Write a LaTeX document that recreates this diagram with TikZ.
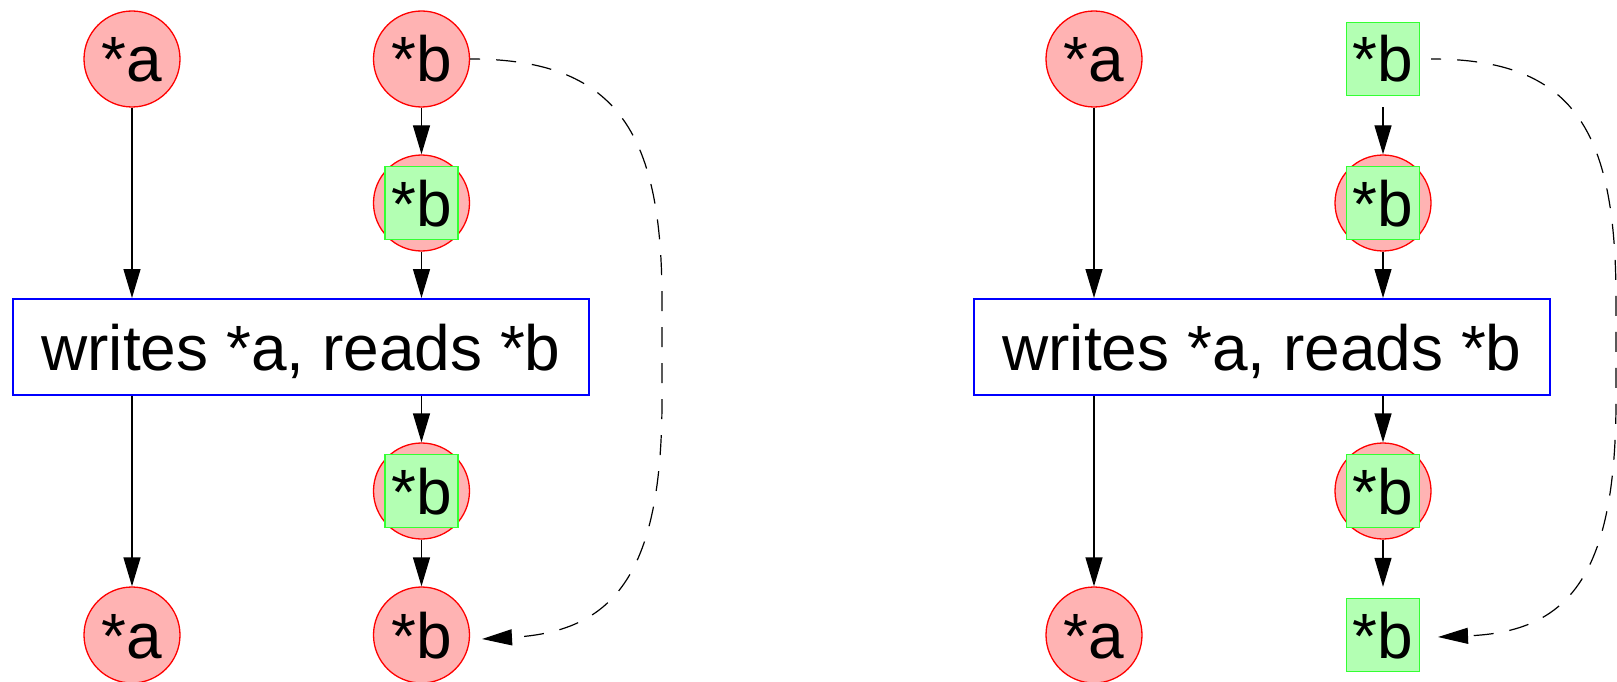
\documentclass[tikz,border=0pt]{standalone}
\usepackage{fontspec}
\setmainfont{Liberation Sans}
\usetikzlibrary{arrows.meta}
\definecolor{pinkfill}{RGB}{255,179,179}
\definecolor{greenfill}{RGB}{179,255,179}
\definecolor{greenline}{RGB}{51,255,51}
\begin{document}
\begin{tikzpicture}[x=1pt,y=-1pt,
  every node/.style={font=\fontsize{64}{77}\selectfont, inner sep=0pt,
    text height=46pt, text depth=0pt},
  memnode/.style={circle, draw=red, fill=pinkfill, line width=1.3pt, minimum size=96pt},
  ghost/.style={circle, minimum size=96pt},
  regsq/.style={rectangle, draw=greenline, fill=greenfill, line width=1.5pt, minimum size=72.6pt},
  opbox/.style={rectangle, draw=blue, line width=2pt, minimum width=576pt, minimum height=96pt},
  flow/.style={line width=1.3pt, -{Triangle[length=29pt,width=17pt]}},
  alias/.style={line width=1.2pt, dash pattern=on 20pt off 16pt, dash phase=10pt,
    -{Triangle[length=30pt,width=16pt]}}]
\useasboundingbox (0,0) rectangle (1617,682);

% ---------- left graph: *b stays in memory ----------
\node[memnode] (La1) at (132,59) {*a};
\node[memnode] (Lb1) at (421.5,59) {*b};
\node[memnode] (Lb2) at (421.5,203) {};
\node[regsq]   (Lb2s) at (421.5,203) {*b};
\node[opbox]   (Lop) at (301,347) {writes *a, reads *b};
\node[memnode] (Lb4) at (421.5,491) {};
\node[regsq]   (Lb4s) at (421.5,491) {*b};
\node[memnode] (La5) at (132,635) {*a};
\node[memnode] (Lb5) at (421.5,635) {*b};

\draw[flow] (La1) -- (La1 |- Lop.north);
\draw[flow] (La1 |- Lop.south) -- (La5);
\draw[flow] (Lb1) -- (Lb2);
\draw[flow] (Lb2) -- (Lb2 |- Lop.north);
\draw[flow] (Lb2 |- Lop.south) -- (Lb4);
\draw[flow] (Lb4) -- (Lb5);

\coordinate (Lv1) at (662,300);
\coordinate (Lv2) at (662,400);
\coordinate (Lend) at (482,639);
\draw[alias] (Lb1.east) .. controls (615,59) and (662,130) .. (Lv1) -- (Lv2)
  .. controls (662,580) and (610,632) .. (Lend);

% ---------- right graph: *b kept in a register ----------
\node[memnode] (Ra1) at (1094,59) {*a};
\node[ghost]   (Rb1) at (1383,59) {};
\node[regsq]   (Rb1s) at (1383,59) {*b};
\node[memnode] (Rb2) at (1383,203) {};
\node[regsq]   (Rb2s) at (1383,203) {*b};
\node[opbox]   (Rop) at (1262,347) {writes *a, reads *b};
\node[memnode] (Rb4) at (1383,491) {};
\node[regsq]   (Rb4s) at (1383,491) {*b};
\node[memnode] (Ra5) at (1094,635) {*a};
\node[ghost]   (Rb5) at (1383,635) {};
\node[regsq]   (Rb5s) at (1383,635) {*b};

\draw[flow] (Ra1) -- (Ra1 |- Rop.north);
\draw[flow] (Ra1 |- Rop.south) -- (Ra5);
\draw[flow] (Rb1) -- (Rb2);
\draw[flow] (Rb2) -- (Rb2 |- Rop.north);
\draw[flow] (Rb2 |- Rop.south) -- (Rb4);
\draw[flow] (Rb4) -- (Rb5);

\coordinate (Rv1) at (1616,300);
\coordinate (Rv2) at (1616,400);
\coordinate (Rend) at (1438,637);
\draw[alias] (Rb1.east) .. controls (1574,59) and (1616,130) .. (Rv1) -- (Rv2)
  .. controls (1616,580) and (1566,632) .. (Rend);
\end{tikzpicture}
\end{document}
